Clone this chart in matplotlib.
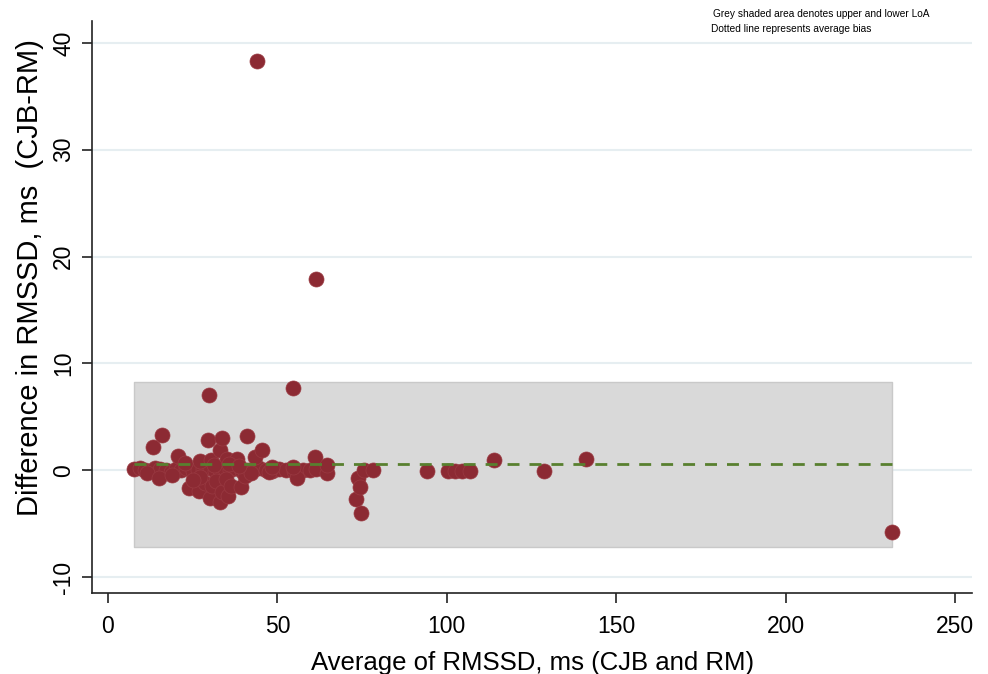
import numpy as np
import matplotlib
matplotlib.use("Agg")
import matplotlib.pyplot as plt

plt.rcParams['font.family'] = ['Liberation Sans', 'DejaVu Sans']
plt.rcParams['axes.unicode_minus'] = False

# Bland-Altman data: average of the two RMSSD readings vs their difference
avg_rmssd = [
    # points sitting on the bias line
    7.6, 9.5, 11, 12.5, 14, 15.5, 17, 18.5, 20, 21.5, 23, 25, 26.5, 28, 30, 31.5,
    33, 34.5, 36, 37.5, 39.5, 41, 43, 44.5, 46.5, 48.5, 50.5, 52.5, 55, 57.5, 59.5, 61.5,
    # below the line
    11.5, 15.2, 19, 23.8, 27, 28.5, 30, 30.8, 31.8, 33, 33.8, 34.8, 35.3, 36.3, 39.3,
    40.3, 42.3, 47.4, 55.8, 64.6, 27.2, 25.2,
    # above the line
    13.3, 16.1, 20.7, 22.7, 27.2, 29.6, 30.3, 33, 33.6, 35.1, 38, 41, 43.4, 45.4,
    31.3, 35.8, 38.8, 48.4, 54.5, 61, 64.6,
    # outliers
    29.8, 54.6, 61.3, 44,
    # right-hand tail
    73.1, 73.7, 74.3, 74.6, 75.5, 78.2, 94.1, 100.3, 102.4, 104.4, 106.7, 113.9,
    128.6, 141, 231.3,
]
diff_rmssd = [
    0.1, 0.2, 0.0, -0.1, 0.2, 0.1, 0.0, -0.2, 0.1, 0.0, 0.2, -0.1, 0.0, 0.1, 0.2, -0.1,
    0.0, 0.1, 0.0, 0.2, -0.1, 0.0, 0.1, 0.2, 0.0, -0.1, 0.1, 0.0, -0.1, 0.0, 0.0, 0.1,
    -0.3, -0.7, -0.4, -1.7, -1.9, -1.2, -2.6, -1.5, -1.0, -3.0, -2.0, -0.8, -2.4, -1.5, -1.6,
    -0.5, -0.3, -0.2, -0.7, -0.3, -0.6, -0.9,
    2.2, 3.3, 1.3, 0.7, 0.9, 2.8, 1.0, 1.9, 3.0, 1.1, 1.1, 3.2, 1.2, 1.9,
    0.5, 0.6, 0.4, 0.3, 0.3, 1.2, 0.5,
    7.0, 7.7, 17.9, 38.3,
    -2.7, -0.75, -1.6, -4.0, 0.0, 0.0, -0.05, -0.05, -0.05, -0.05, -0.05, 0.95,
    -0.05, 1.05, -5.8,
]

bias = 0.56
loa_upper = 8.25
loa_lower = -7.2

x_ticks = [0, 50, 100, 150, 200, 250]
y_ticks = [-10, 0, 10, 20, 30, 40]

fig = plt.figure(figsize=(9.88, 6.74), dpi=100)
ax = fig.add_axes([0.0931, 0.12, 0.8909, 0.849])

x_lo, x_hi = min(avg_rmssd), max(avg_rmssd)

# light horizontal grid
for yt in y_ticks:
    ax.axhline(yt, color='#e6eef1', lw=1.5, zorder=0)

# grey LoA band
ax.fill_between([x_lo, x_hi], loa_lower, loa_upper, facecolor='#d9d9d9',
                edgecolor='#c9c9c9', lw=1, zorder=1)

ax.scatter(avg_rmssd, diff_rmssd, s=117, color='#8c2a33', edgecolors='#9a3a42',
           linewidths=0.5, zorder=3)

ax.hlines(bias, x_lo, x_hi, colors='#58802f', linestyles=(0, (4.3, 3.6)), lw=2, zorder=4)

ax.set_xlim(-4.7, 255)
ax.set_ylim(-11.5, 42.06)
ax.set_xticks(x_ticks)
ax.set_yticks(y_ticks)
ax.tick_params(axis='both', direction='out', length=7, width=1.2, labelsize=16.5, color='#222222')
ax.tick_params(axis='x', pad=9)
ax.tick_params(axis='y', pad=5)
for lab in ax.get_yticklabels():
    lab.set_rotation(90)
    lab.set_va('center')

for side in ['top', 'right']:
    ax.spines[side].set_visible(False)
for side in ['left', 'bottom']:
    ax.spines[side].set_linewidth(1.2)
    ax.spines[side].set_color('#222222')

ax.set_xlabel('Average of RMSSD, ms (CJB and RM)', fontsize=18.5, va='center')
ax.set_ylabel('Difference in RMSSD, ms  (CJB-RM)', fontsize=21, va='center')
ax.xaxis.set_label_coords(0.5, -0.122)
ax.yaxis.set_label_coords(-0.0705, 0.551)

fig.text(0.7217, 0.979, 'Grey shaded area denotes upper and lower LoA', fontsize=7.3, va='center')
fig.text(0.7197, 0.957, 'Dotted line represents average bias', fontsize=7.3, va='center')

fig.savefig('out.png', dpi=100)
